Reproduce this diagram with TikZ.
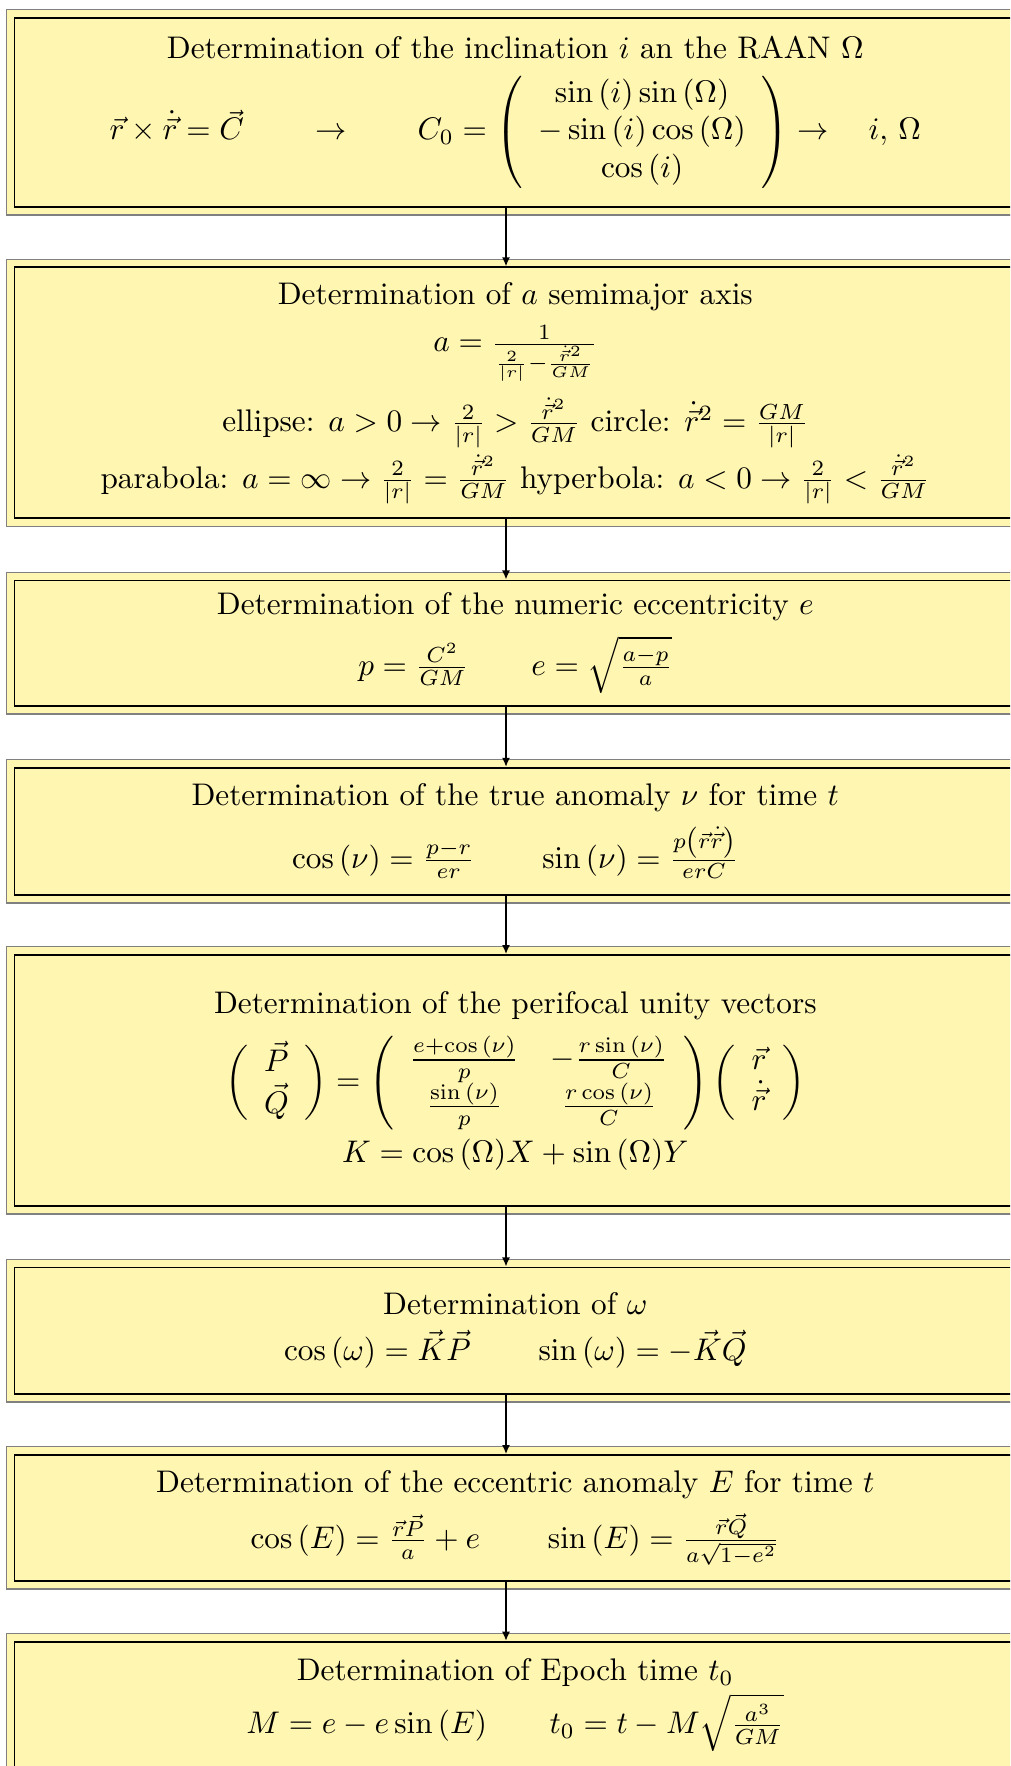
\documentclass[tikz,border=0pt]{standalone}
\usepackage{amsmath}
\usetikzlibrary{arrows.meta}
\definecolor{boxyellow}{RGB}{255,246,178}
\def\pxu{0.320pt}
\tikzset{
  stagebox/.style={draw=black, line width=0.6pt, fill=boxyellow, minimum width={1001.6*\pxu}, inner sep=0pt},
  outerframe/.style={fill=boxyellow, draw=gray, line width=0.22pt},
  framebottom/.style={draw=gray, line width=0.55pt},
  flow/.style={draw=black, line width=0.5pt, -{Latex[length=2.9pt,width=2.6pt]}},
  txt/.style={anchor=base, inner sep=0pt},
}
\newcommand\stage[3]{%
  \path[outerframe] (6.3,{#2-#3/2-8.2}) rectangle (1024.3,{#2+#3/2+8.3});
  \draw[framebottom] (6.3,{#2+#3/2+8.3}) -- (1024.3,{#2+#3/2+8.3});
  \node[stagebox, minimum height={#3*\pxu}] (#1) at (515.3,#2) {};
}
\begin{document}
\begin{tikzpicture}[x=0.320pt, y=-0.320pt]
\useasboundingbox (0,0) rectangle (1010,1766);
\clip (0,0) rectangle (1010,1766);
\fill[white] (0,0) rectangle (1010,1766);

\stage{b1}{112.5}{189}
\stage{b2}{392.8}{251}
\stage{b3}{643.2}{125.5}
\stage{b4}{831.3}{127}
\stage{b5}{1080.5}{251}
\stage{b6}{1330.7}{126.5}
\stage{b7}{1518}{126}
\stage{b8}{1704.7}{126}

% box 1
\node[txt] (t1) at (515.3,59) {Determination of the inclination $i$ an the RAAN $\Omega$};
\node[txt] (f1) at (515.3,140) {$\vec{r}\times\dot{\vec{r}} = \vec{C} \qquad\rightarrow\qquad C_0 = \left(\begin{array}{c}\sin{\left(i\right)}\sin{\left(\Omega\right)}\\ -\sin{\left(i\right)}\cos{\left(\Omega\right)}\\ \cos{\left(i\right)}\end{array}\right)\rightarrow\quad i,\,\Omega$};

% box 2
\node[txt] (t2) at (515.3,304.5) {Determination of $a$ semimajor axis};
\node[txt] (f2a) at (515.3,352) {$a = \frac{1}{\frac{2}{|r|}-\frac{\dot{\vec{r}}^2}{GM}}$};
\node[txt] (f2b) at (515.3,431.5) {ellipse: $a>0 \rightarrow \frac{2}{|r|} > \frac{\dot{\vec{r}}^2}{GM}$ circle: $\dot{\vec{r}}^2 = \frac{GM}{|r|}$};
\node[txt] (f2c) at (515.3,488) {parabola: $a=\infty \rightarrow \frac{2}{|r|} = \frac{\dot{\vec{r}}^2}{GM}$ hyperbola: $a<0 \rightarrow \frac{2}{|r|} < \frac{\dot{\vec{r}}^2}{GM}$};

% box 3
\node[txt] (t3) at (515.3,614) {Determination of the numeric eccentricity $e$};
\node[txt] (f3) at (515.3,675.2) {$p = \frac{C^2}{GM} \qquad e = \sqrt{\frac{a-p}{a}}$};

% box 4
\node[txt] (t4) at (515.3,805) {Determination of the true anomaly $\nu$ for time $t$};
\node[txt] (f4) at (515.3,868) {$\cos{\left(\nu\right)} = \frac{p-r}{er} \qquad \sin{\left(\nu\right)} = \frac{p\left(\vec{r}\dot{\vec{r}}\right)}{erC}$};

% box 5
\node[txt] (t5) at (515.3,1013.3) {Determination of the perifocal unity vectors};
\node[txt] (f5a) at (515.3,1090.6) {$\left(\begin{array}{c}\vec{P}\\ \vec{Q}\end{array}\right) = \left(\begin{array}{cc}\frac{e+\cos{\left(\nu\right)}}{p} & -\frac{r\sin{\left(\nu\right)}}{C}\\ \frac{\sin{\left(\nu\right)}}{p} & \frac{r\cos{\left(\nu\right)}}{C}\end{array}\right)\left(\begin{array}{c}\vec{r}\\ \dot{\vec{r}}\end{array}\right)$};
\node[txt] (f5b) at (515.3,1162.7) {$K = \cos{\left(\Omega\right)}X + \sin{\left(\Omega\right)}Y$};

% box 6
\node[txt] (t6) at (515.3,1314) {Determination of $\omega$};
\node[txt] (f6) at (515.3,1360) {$\cos{\left(\omega\right)} = \vec{K}\vec{P} \qquad \sin{\left(\omega\right)} = -\vec{K}\vec{Q}$};

% box 7
\node[txt] (t7) at (515.3,1492.7) {Determination of the eccentric anomaly $E$ for time $t$};
\node[txt] (f7) at (515.3,1548.6) {$\cos{\left(E\right)} = \frac{\vec{r}\vec{P}}{a} + e \qquad \sin{\left(E\right)} = \frac{\vec{r}\vec{Q}}{a\sqrt{1-e^2}}$};

% box 8
\node[txt] (t8) at (515.3,1680.7) {Determination of Epoch time $t_0$};
\node[txt] (f8) at (515.3,1733.5) {$M = e - e\sin{\left(E\right)} \qquad t_0 = t - M\sqrt{\frac{a^3}{GM}}$};

% connectors
\foreach \a/\b in {b1/b2,b2/b3,b3/b4,b4/b5,b5/b6,b6/b7,b7/b8}
  \draw[flow] ([xshift={-9.3*\pxu}]\a.south) -- ([xshift={-9.3*\pxu}]\b.north);
\end{tikzpicture}
\end{document}
